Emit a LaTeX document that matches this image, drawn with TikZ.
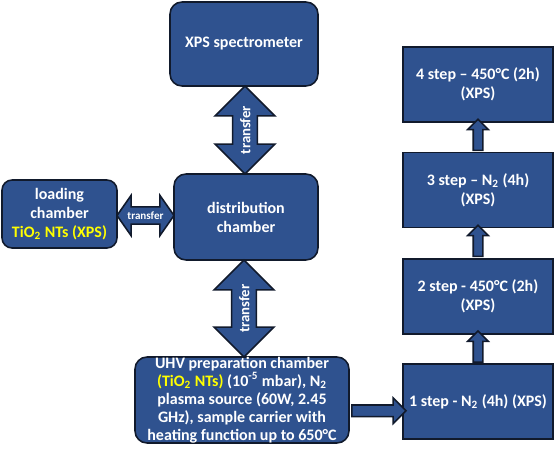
\documentclass[tikz,border=0pt]{standalone}
\usepackage{fontspec}
\setmainfont{Carlito}
\usepackage{xcolor}
\usetikzlibrary{shapes.arrows, calc}

\definecolor{chamberblue}{HTML}{2F528F}
\definecolor{chamberedge}{HTML}{111A2C}
\definecolor{sampleyellow}{HTML}{FFFF00}

\begin{document}
\begin{tikzpicture}[
    x=0.02cm, y=-0.02cm,
    chamber/.style={draw=chamberedge, line width=0.9pt, fill=chamberblue, rounded corners=0.24cm, text=white, align=center, inner sep=0pt, font=\fontsize{9.1}{10.8}\selectfont\bfseries},
    stepbox/.style={chamber, sharp corners, minimum width=3cm, minimum height=1.5cm},
    transfer/.style={double arrow, draw=chamberedge, line width=0.9pt, fill=chamberblue, text=white, inner xsep=0pt, inner ysep=3.6pt, text height=6pt, text depth=0pt, double arrow head extend=0.35cm, font=\fontsize{8.4}{9}\selectfont\bfseries},
    uparrow/.style={single arrow, draw=chamberedge, line width=0.9pt, fill=chamberblue, inner sep=0.08cm, minimum height=0.62cm, single arrow head extend=0.11cm, rotate=90}
]
    \useasboundingbox (0,0) rectangle (555,450);

    % Chambers
    \node[chamber, minimum width=2.96cm, minimum height=1.68cm] (xps) at (244,44) {XPS spectrometer};
    \node[chamber, minimum width=2.88cm, minimum height=1.72cm] (dist) at (246,217) {distribution\\chamber};
    \node[chamber, rounded corners=0.2cm, minimum width=2.3cm, minimum height=1.36cm] (load) at (59.5,214) {loading\\chamber\\{\color{sampleyellow}TiO\textsubscript{2} NTs (XPS)}};
    \node[chamber, minimum width=4.28cm, minimum height=1.72cm, font=\fontsize{9.1}{10.2}\selectfont\bfseries] (uhv) at (242,400) {UHV preparation chamber\\{\color{sampleyellow}(TiO\textsubscript{2} NTs)} (10\textsuperscript{-5} mbar), N\textsubscript{2}\\plasma source (60W, 2.45\\GHz), sample carrier with\\heating function up to 650°C};

    % Steps
    \node[stepbox] (step4) at (478,84.5) {4 step – 450°C (2h)\\(XPS)};
    \node[stepbox] (step3) at (478,190) {3 step – N\textsubscript{2} (4h)\\(XPS)};
    \node[stepbox] (step2) at (478,296.5) {2 step - 450°C (2h)\\(XPS)};
    \node[stepbox] (step1) at (478,401.5) {1 step - N\textsubscript{2} (4h) (XPS)};

    % Transfers
    \node[transfer, rotate=90, minimum height=1.76cm] (xferup) at ($(xps.south)!0.5!(dist.north)$) {\makebox[0pt]{transfer}};
    \node[transfer, rotate=90, minimum height=1.94cm] (xferdown) at ($(dist.south)!0.5!(uhv.north)$) {\makebox[0pt]{transfer}};
    \node[transfer, minimum height=1.14cm, inner ysep=2.2pt, text height=4.6pt, double arrow head extend=0.23cm, double arrow tip angle=110, font=\fontsize{6.3}{7}\selectfont\bfseries] (xferload) at ($(load.east)!0.5!(dist.west)$) {\makebox[0pt]{transfer}};

    % Step arrows
    \node[single arrow, draw=chamberedge, line width=0.9pt, fill=chamberblue, inner sep=0.1cm, minimum height=1.08cm, single arrow head extend=0.14cm, yshift=-0.2cm] (toheat) at ($(uhv.east)!0.5!(step1.west)$) {};
    \node[uparrow] (up12) at ($(step1.north)!0.5!(step2.south)$) {};
    \node[uparrow] (up23) at ($(step2.north)!0.5!(step3.south)$) {};
    \node[uparrow] (up34) at ($(step3.north)!0.5!(step4.south)$) {};

\end{tikzpicture}
\end{document}
